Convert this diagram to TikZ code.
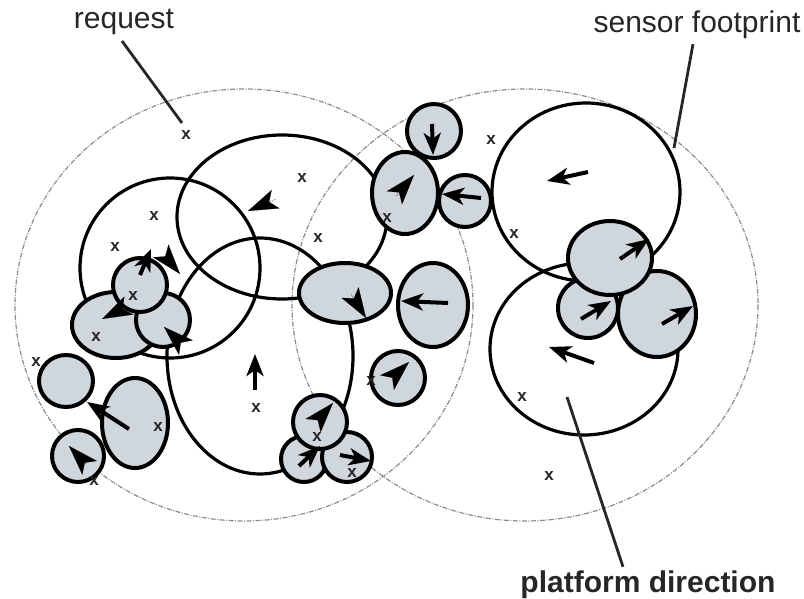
\documentclass[tikz,border=0pt]{standalone}
\usepackage{fontspec}
\setmainfont{Liberation Sans}
\usetikzlibrary{arrows.meta}
\definecolor{fpgray}{RGB}{207,214,220}
\definecolor{fpdash}{RGB}{140,140,140}
\tikzset{
  footprint/.style={draw=fpdash,line width=1.2pt,
                    dash pattern=on 5pt off 1.5pt on 1pt off 1.5pt},
  track/.style={draw=black,line width=3.2pt},
  target/.style={draw=black,line width=4pt,fill=fpgray},
  dir/.style={-{Stealth[length=22pt,width=17pt,inset=6pt]},line width=4pt},
  dirhead/.style={-{Stealth[length=30pt,width=20pt,inset=7pt]},line width=0.1pt},
  xmark/.style={font=\fontsize{17}{17}\selectfont\bfseries,inner sep=0pt,text=black!85},
  lbl/.style={font=\fontsize{30}{36}\selectfont,inner sep=0pt,text=black!85},
  leader/.style={line width=2.8pt,black!85},
}

\begin{document}
\begin{tikzpicture}[x=1pt,y=-1pt]
  \useasboundingbox (0,0) rectangle (804,599);

  % sensor footprints and request region
  \draw[footprint] (244,305) ellipse [x radius=229, y radius=216];
  \draw[footprint] (525,305) ellipse [x radius=233, y radius=216];

  % white footprints
  \foreach \cx/\cy/\rx/\ry in {282/217/105/82, 170/268/90/90, 260/356/93/118,
                               586/192/94/89, 584/349/94/86}{
    \draw[track] (\cx,\cy) ellipse [x radius=\rx, y radius=\ry];
  }

  % targets (drawn back to front)
  \foreach \cx/\cy/\rx/\ry in {116/325/44/33, 163/320/27/27, 140/285/27/27,
                               66/381/27/26, 135/423/33/45, 78/456/26/26,
                               304/459/23/23, 347/457/25/25, 320/422/27/27,
                               398/378/27/27, 345/293/46/30, 433/305/35/42,
                               405/193/33/41, 434/131/27/27, 465/201/26/26,
                               588/308/30/30, 657/314/39/43, 610/258/42/37}{
    \draw[target] (\cx,\cy) ellipse [x radius=\rx, y radius=\ry];
  }

  % platform directions
  \foreach \ax/\ay/\bx/\by in {255/390/255/354, 448/303/401/301, 481/198/442/194,
                               588/172/547/181, 620/259/649/239, 581/319/611/301,
                               662/324/693/306, 594/363/549/347, 129/429/87/402,
                               140/275/151/249, 299/466/320/446, 340/455/371/461,
                               432/124/433/155}{
    \draw[dir] (\ax,\ay) -- (\bx,\by);
  }
  \foreach \ax/\ay/\bx/\by in {276/199/248/211, 165/256/180/274, 122/309/102/319,
                               181/343/164/327, 86/464/69/446, 318/420/333/403,
                               392/378/409/362, 351/294/366/318, 396/196/414/175}{
    \draw[dirhead] (\ax,\ay) -- (\bx,\by);
  }

  % request positions
  \foreach \px/\py [count=\i] in {186/135, 302/178, 154/216, 115/247, 318/238,
                                  133/296, 96/337, 36/362, 158/427, 94/481,
                                  256/408, 317/437, 352/473, 387/218, 491/140,
                                  514/234, 371/381, 522/397, 549/476}{
    \node[xmark] (x\i) at (\px,\py) {x};
  }

  % labels
  \node[lbl] (req) at (124,22) {request};
  \node[lbl] (sfp) at (697,25) {sensor footprint};
  \node[lbl,font=\fontsize{30}{36}\selectfont\bfseries] (pdir) at (648,585) {platform direction};

  \coordinate (reqpt) at (182,123);
  \coordinate (sfppt) at (674,148);
  \coordinate (pdirpt) at (567,397);
  \draw[leader] ([xshift=-2pt,yshift=-6pt]req.south) -- (reqpt);
  \draw[leader] ([xshift=-4pt,yshift=-5pt]sfp.south) -- (sfppt);
  \draw[leader] ([xshift=-25pt,yshift=4pt]pdir.north) -- (pdirpt);

\end{tikzpicture}
\end{document}
